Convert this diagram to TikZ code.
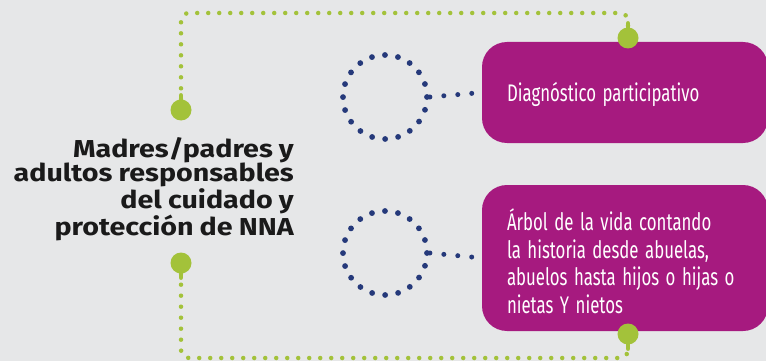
\documentclass[tikz,border=0pt]{standalone}
\usepackage{fontspec}
\usetikzlibrary{positioning}
\newfontfamily\titlefont[FakeStretch=1.17, WordSpace=0.9]{Fira Sans}
\newfontfamily\boxfont[FakeStretch=0.70]{Fira Sans}
\newcommand\boxspace{\spaceskip=6.5pt plus 1pt minus 1pt\relax}
\definecolor{bgray}{HTML}{E6E7E8}
\definecolor{lime}{HTML}{A3C23A}
\definecolor{navy}{HTML}{25397A}
\definecolor{plum}{HTML}{A61A7F}
\definecolor{ink}{HTML}{1A1A1A}

\begin{document}
\begin{tikzpicture}[x=1pt, y=-1pt,
actbox/.style={rectangle, rounded corners=25pt, fill=plum, minimum width=286pt, minimum height=#1},
boxtext/.style={anchor=west, inner sep=0pt, text=white, align=left, font=\boxfont\fontsize{24}{27.5}\selectfont\boxspace},
ringnode/.style={circle, draw=navy, line width=5.8pt, dash pattern=on 0pt off 13.2pt, line cap=round, minimum size=84pt, inner sep=0pt},
pinnode/.style={circle, fill=lime, minimum size=21pt, inner sep=0pt},
navydots/.style={draw=navy, line width=5pt, dash pattern=on 0pt off 14pt, line cap=round},
limedots/.style={draw=lime, line width=4.5pt, dash pattern=on 0pt off 11pt, line cap=round, rounded corners=8pt},
stem/.style={draw=lime, line width=4.5pt, line cap=round}]
\fill[bgray] (0,0) rectangle (766,361);
\clip (0,0) rectangle (766,361);

\node[anchor=east, inner sep=0pt, align=right, text=ink, font=\titlefont\bfseries\fontsize{24.5}{24.5}\selectfont] (who) at (294,189) {Madres/padres y\\adultos responsables\\del cuidado y\\protección de NNA};

\node[actbox=101pt] (diag) at (625,92.5) {};
\node[boxtext, right=25pt of diag.west, yshift=-2pt] (diagtext) {Diagnóstico participativo};
\node[actbox=146pt] (tree) at (625,258) {};
\node[boxtext, right=25pt of tree.west, yshift=-3pt] (treetext) {Árbol de la vida contando\\la historia desde abuelas,\\abuelos hasta hijos o hijas o\\nietas Y nietos};

\node[ringnode] (ring1) at (385,97) {};
\node[ringnode] (ring2) at (385,253) {};

\node[pinnode] (pintl) at (181,110) {};
\node[pinnode] (pintr) at (628,38) {};
\node[pinnode] (pinbl) at (181,263) {};
\node[pinnode] (pinbr) at (628,334) {};

% dotted links to the boxes
\draw[navydots] (ring1.east) -- (diag.west);
\draw[navydots] (ring2.east) -- (tree.west);

% green tracks
\draw[limedots] (pintl.north) -- (pintl.north |- 0,13) -- (pintr.north |- 0,13) -- (pintr.north);
\draw[limedots] (pinbl.south) -- (pinbl.south |- 0,358) -- (pinbr.south |- 0,358) -- (pinbr.south);
\draw[stem] (pintl.north) -- ++(0,-4);
\draw[stem] (pintr.north) -- ++(0,-4);
\draw[stem] (pinbl.south) -- ++(0,4);
\draw[stem] (pinbr.south) -- ++(0,4);
\end{tikzpicture}
\end{document}
